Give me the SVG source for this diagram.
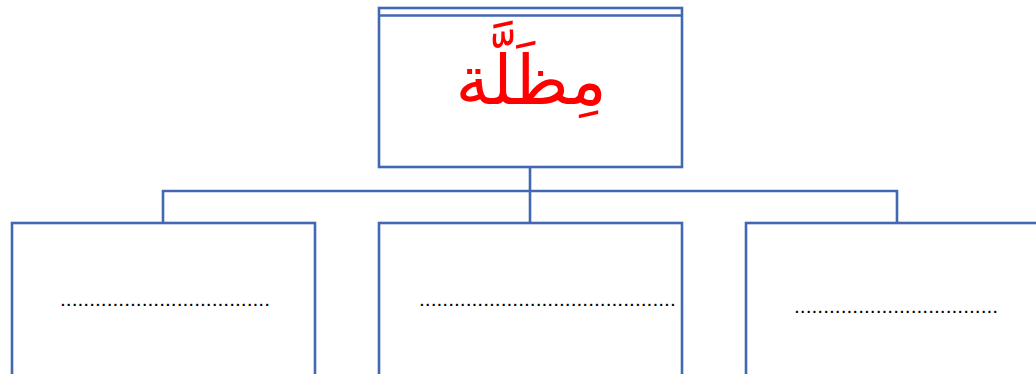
<svg xmlns="http://www.w3.org/2000/svg" width="1036" height="374" viewBox="0 0 1036 374">
<style>
.box{fill:#fff;stroke:#4168B0;stroke-width:2.6}
.conn{fill:none;stroke:#4168B0;stroke-width:2.6}
.dots{font-family:"Liberation Sans",Arial,sans-serif;font-size:21px;fill:#000}
.title{font-family:"DejaVu Sans",sans-serif;font-size:68px;fill:#FF0000}
</style>
<g id="connectors">
<path class="conn" d="M530,167 V191 M163,223 V191 H897 V223 M530,191 V223"/>
</g>
<g id="top">
<rect class="box" x="379" y="8" width="303" height="159"/>
<line class="conn" x1="379" y1="15.5" x2="682" y2="15.5"/>
<text class="title" x="531" y="104" text-anchor="middle" direction="rtl">مِظَلَّة</text>
</g>
<g id="left">
<rect class="box" x="12" y="223" width="303" height="160"/>
<text class="dots" x="60" y="306">....................................</text>
</g>
<g id="middle">
<rect class="box" x="379" y="223" width="303" height="160"/>
<text class="dots" x="419" y="306">............................................</text>
</g>
<g id="right">
<rect class="box" x="746" y="223" width="300" height="160"/>
<text class="dots" x="794" y="313">...................................</text>
</g>
</svg>
